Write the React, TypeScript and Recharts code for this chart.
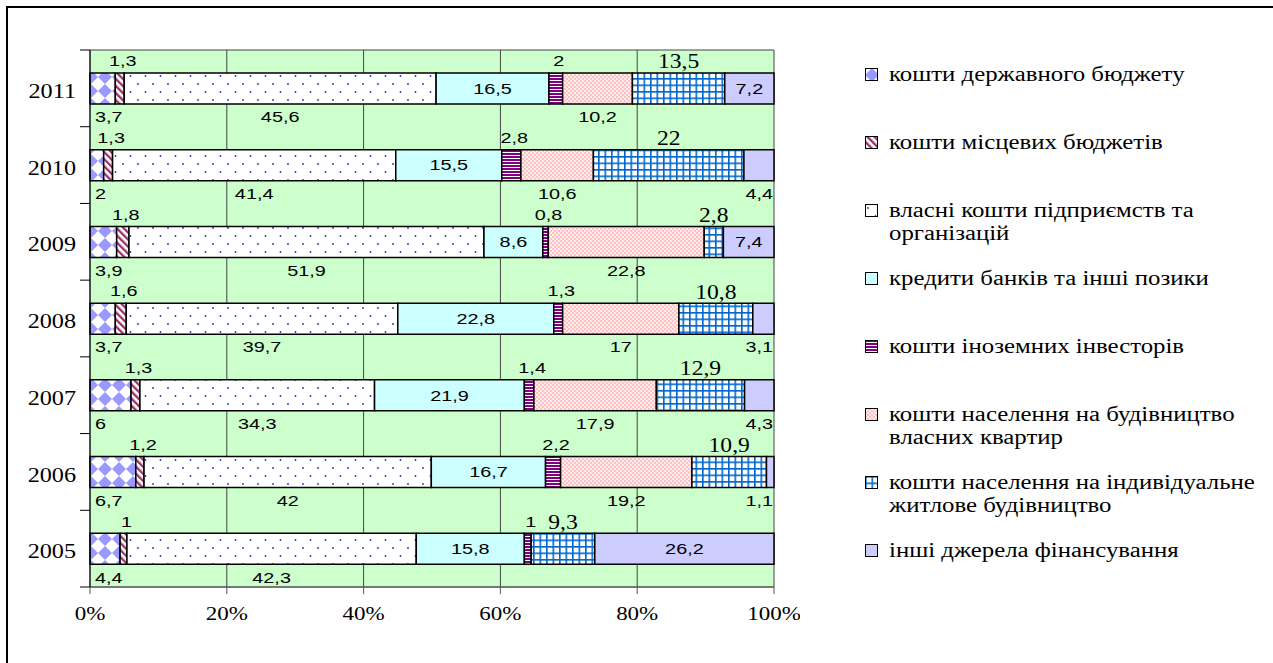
import { BarChart, Bar, XAxis, YAxis, CartesianGrid, Legend, LabelList } from "recharts"

// years top to bottom, as in the picture
const YEARS = ["2011", "2010", "2009", "2008", "2007", "2006", "2005"]

// shares of financing sources, %
const STATE = [3.7, 2, 3.9, 3.7, 6, 6.7, 4.4]
const LOCAL = [1.3, 1.3, 1.8, 1.6, 1.3, 1.2, 1]
const OWN = [45.6, 41.4, 51.9, 39.7, 34.3, 42, 42.3]
const CREDIT = [16.5, 15.5, 8.6, 22.8, 21.9, 16.7, 15.8]
const FOREIGN = [2, 2.8, 0.8, 1.3, 1.4, 2.2, 1]
const FLATS = [10.2, 10.6, 22.8, 17, 17.9, 19.2, 0]
const INDIVIDUAL = [13.5, 22, 2.8, 10.8, 12.9, 10.9, 9.3]
const OTHER = [7.2, 4.4, 7.4, 3.1, 4.3, 1.1, 26.2]

const X_TICKS = [0, 20, 40, 60, 80, 100]

const SERIES = [
  { key: "state", name: "кошти державного бюджету", values: STATE, fill: "url(#pState)", label: "belowStart" },
  { key: "local", name: "кошти місцевих бюджетів", values: LOCAL, fill: "url(#pLocal)", label: "above" },
  { key: "own", name: "власні кошти підприємств та\nорганізацій", values: OWN, fill: "url(#pOwn)", label: "below" },
  { key: "credit", name: "кредити банків та інші позики", values: CREDIT, fill: "#CCFFFF", label: "inside" },
  { key: "foreign", name: "кошти іноземних інвесторів", values: FOREIGN, fill: "url(#pForeign)", label: "above" },
  { key: "flats", name: "кошти населення на будівництво\nвласних квартир", values: FLATS, fill: "url(#pFlats)", label: "below" },
  { key: "individual", name: "кошти населення на індивідуальне\nжитлове будівництво", values: INDIVIDUAL, fill: "url(#pIndiv)", label: "aboveSerif" },
  { key: "other", name: "інші джерела фінансування", values: OTHER, fill: "#CCCCFF", label: "other" },
]

const data = YEARS.map((year, i) => {
  const row: Record<string, string | number> = { year }
  SERIES.forEach((s) => {
    row[s.key] = s.values[i]
  })
  return row
})

const CHART_W = 800
const CHART_H = 630
const MARGIN = { top: 50, right: 26, bottom: 0, left: 0 }
const X_AXIS_H = 43
const BAND = (CHART_H - MARGIN.top - MARGIN.bottom - X_AXIS_H) / YEARS.length

const SANS = "'Liberation Sans', Arial, sans-serif"
const SERIF = "'Liberation Serif', 'Times New Roman', serif"

const fmt = (v: number) => String(v).replace(".", ",")

// the original picture is stretched sideways, so texts get a horizontal scale
const SText = ({ x, y, anchor = "middle", family = SANS, size = 15.5, sx = 1.28, children }: any) => (
  <text
    transform={`translate(${x},${y}) scale(${sx},1)`}
    textAnchor={anchor}
    dominantBaseline="central"
    fontFamily={family}
    fontSize={size}
    fill="#000"
  >
    {children}
  </text>
)

const makeLabel = (kind: string) => (props: any) => {
  const { x, y, width, height, value } = props
  if (!value) return null
  const cx = x + width / 2
  const below = y + height + 13
  const t = fmt(value)
  if (kind === "belowStart") return <SText x={x + 5} y={below} anchor="start">{t}</SText>
  if (kind === "below") return <SText x={cx} y={below}>{t}</SText>
  if (kind === "above") return <SText x={cx + 3} y={y - 12}>{t}</SText>
  if (kind === "inside") return <SText x={cx} y={y + height / 2}>{t}</SText>
  if (kind === "aboveSerif")
    return <SText x={cx} y={y - 11} family={SERIF} size={20} sx={1.18}>{t}</SText>
  // other sources: inside when wide enough, otherwise under the bar, flush right
  if (value >= 5) return <SText x={cx} y={y + height / 2}>{t}</SText>
  return <SText x={x + width - 1} y={below} anchor="end">{t}</SText>
}

const YearTick = (props: any) => {
  const { x, y, payload, index } = props
  return (
    <g>
      <SText x={x} y={y + 2} anchor="end" family={SERIF} size={22} sx={1.1}>
        {payload.value}
      </SText>
      <line x1={x + 4} x2={x + 14} y1={y + BAND / 2} y2={y + BAND / 2} stroke="#000" />
      {index === 0 && <line x1={x + 4} x2={x + 14} y1={y - BAND / 2} y2={y - BAND / 2} stroke="#000" />}
    </g>
  )
}

const PercentTick = (props: any) => {
  const { x, y, payload } = props
  return (
    <SText x={x} y={y + 8} family={SERIF} size={19.5} sx={1.18}>
      {`${payload.value}%`}
    </SText>
  )
}

const LegendContent = () => (
  <div style={{ fontFamily: SERIF, fontSize: 20, color: "#000" }}>
    {SERIES.map((s) => (
      <div key={s.key} style={{ height: 68, display: "flex", alignItems: "flex-start" }}>
        <svg width={14} height={14} style={{ marginTop: 5, marginRight: 10, flex: "none" }}>
          <rect x={0.5} y={0.5} width={12} height={12} fill={s.fill} stroke="#000" />
        </svg>
        <div style={{ whiteSpace: "pre", lineHeight: "23px", transform: "scaleX(1.24)", transformOrigin: "left top" }}>
          {s.name}
        </div>
      </div>
    ))}
  </div>
)

export default function App() {
  return (
    <div style={{ position: "absolute", left: 0, top: 0, width: 1273, height: 663, overflow: "hidden", background: "#fff" }}>
      <div
        style={{
          position: "absolute",
          left: 6,
          top: 6,
          width: 1400,
          height: 800,
          borderLeft: "2px solid #000",
          borderTop: "2px solid #000",
        }}
      />
      <svg width={0} height={0} style={{ position: "absolute" }}>
        <defs>
          <pattern id="pState" width={14} height={14} patternUnits="userSpaceOnUse">
            <rect width={14} height={14} fill="#fff" />
            <polygon points="7,0 14,7 7,14 0,7" fill="#9999FF" />
          </pattern>
          <pattern id="pLocal" width={5} height={5} patternUnits="userSpaceOnUse" patternTransform="rotate(-45)">
            <rect width={5} height={5} fill="#fff" />
            <rect width={2.3} height={5} fill="#993366" />
          </pattern>
          <pattern id="pOwn" width={15} height={16} patternUnits="userSpaceOnUse">
            <rect width={15} height={16} fill="#fff" />
            <circle cx={3} cy={4} r={0.9} fill="#3333AA" />
            <circle cx={10.5} cy={12} r={0.9} fill="#3333AA" />
          </pattern>
          <pattern id="pForeign" width={4} height={3} patternUnits="userSpaceOnUse">
            <rect width={4} height={3} fill="#fff" />
            <rect width={4} height={2} fill="#800080" />
          </pattern>
          <pattern id="pFlats" width={4} height={4} patternUnits="userSpaceOnUse">
            <rect width={4} height={4} fill="#FFEDED" />
            <circle cx={1} cy={1} r={0.8} fill="#FF8A8A" />
            <circle cx={3} cy={3} r={0.8} fill="#FF8A8A" />
          </pattern>
          <pattern id="pIndiv" width={6.5} height={6.5} patternUnits="userSpaceOnUse">
            <rect width={6.5} height={6.5} fill="#fff" />
            <rect width={6.5} height={1.6} fill="#0066CC" />
            <rect width={1.6} height={6.5} fill="#0066CC" />
          </pattern>
        </defs>
      </svg>
      <div style={{ position: "absolute", left: 0, top: 0 }}>
        <BarChart width={CHART_W} height={CHART_H} data={data} layout="vertical" margin={MARGIN} barSize={31}>
          <CartesianGrid
            fill="#CCFFCC"
            fillOpacity={1}
            stroke="#444"
            horizontalCoordinatesGenerator={({ offset }: any) => [offset.top, offset.top + offset.height]}
          />
          <XAxis
            type="number"
            domain={[0, 100]}
            ticks={X_TICKS}
            interval={0}
            height={X_AXIS_H}
            tick={<PercentTick />}
            tickSize={7}
            tickMargin={12}
            stroke="#555"
          />
          <YAxis
            type="category"
            dataKey="year"
            width={90}
            tick={<YearTick />}
            tickLine={false}
            tickSize={0}
            tickMargin={14}
            stroke="#000"
            interval={0}
          />
          <Legend
            layout="vertical"
            align="center"
            verticalAlign="middle"
            content={<LegendContent />}
            wrapperStyle={{ left: 865, top: 63, width: 430 }}
          />
          {SERIES.map((s) => (
            <Bar
              key={s.key}
              dataKey={s.key}
              name={s.name}
              stackId="a"
              fill={s.fill}
              stroke="#000"
              strokeWidth={1.5}
              isAnimationActive={false}
            >
              <LabelList dataKey={s.key} content={makeLabel(s.label)} />
            </Bar>
          ))}
        </BarChart>
      </div>
    </div>
  )
}
